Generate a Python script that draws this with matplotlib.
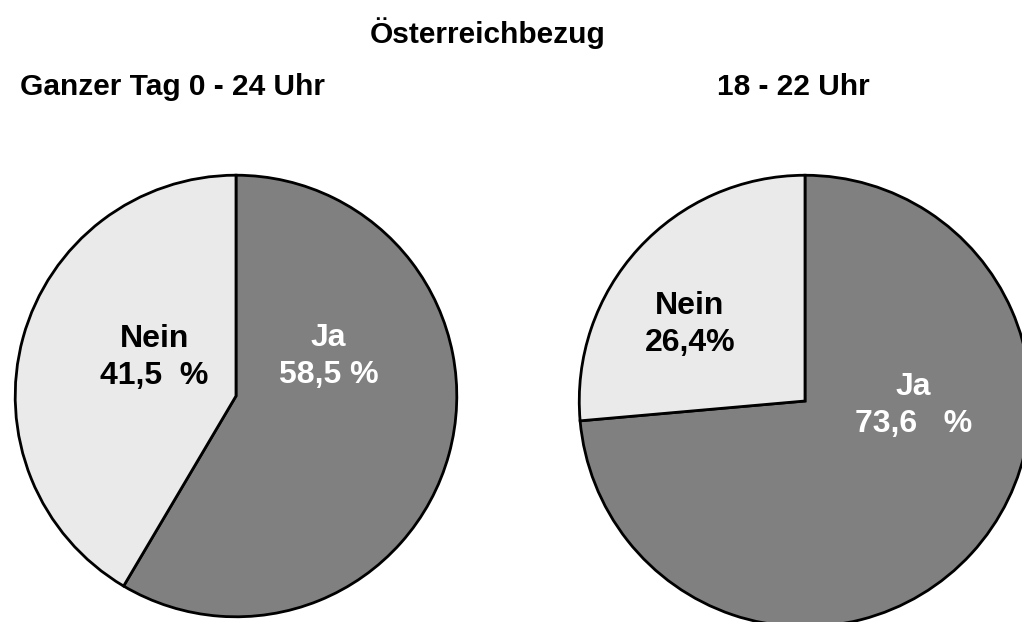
import matplotlib.pyplot as plt

plt.rcParams['font.family'] = ['Liberation Sans', 'DejaVu Sans']

title = "Österreichbezug"
subtitles = ["Ganzer Tag 0 - 24 Uhr", "18 - 22 Uhr"]
categories = ["Ja", "Nein"]
values_day = [58.5, 41.5]
values_evening = [73.6, 26.4]
labels_day = ["Ja\n58,5 %", "Nein\n41,5  %"]
labels_evening = ["Ja\n73,6   %", "Nein\n26,4%"]
colors = ["#808080", "#eaeaea"]
text_colors = ["white", "black"]

W, H = 1022, 622
fig = plt.figure(figsize=(W / 100, H / 100), dpi=100)


def px_axes(cx, cy, r):
    # axes placed by pixel centre/radius (top-based y)
    return fig.add_axes([(cx - r) / W, (H - cy - r) / H, 2 * r / W, 2 * r / H])


ax1 = px_axes(236, 396, 223)
ax2 = px_axes(805, 401, 228)

for ax, vals in [(ax1, values_day), (ax2, values_evening)]:
    ax.pie(vals, colors=colors, startangle=90, counterclock=False,
           wedgeprops=dict(edgecolor="black", linewidth=2), radius=1)
    ax.set_xlim(-1.01, 1.01)
    ax.set_ylim(-1.01, 1.01)
    ax.set_aspect("equal")
    ax.axis("off")

# label positions inside the slices
pos_day = [(0.42, 0.18), (-0.37, 0.175)]
pos_evening = [(0.48, -0.02), (-0.51, 0.34)]
for ax, labs, pos in [(ax1, labels_day, pos_day), (ax2, labels_evening, pos_evening)]:
    for lab, (x, y), c in zip(labs, pos, text_colors):
        ax.text(x, y, lab, ha="center", va="center", fontsize=23,
                fontweight="bold", color=c, linespacing=1.3)

fig.text(488 / W, 1 - 33 / H, title, ha="center", va="center",
         fontsize=21.5, fontweight="bold")
fig.text(20 / W, 1 - 87 / H, subtitles[0], ha="left", va="center",
         fontsize=21.5, fontweight="bold")
fig.text(793 / W, 1 - 87 / H, subtitles[1], ha="center", va="center",
         fontsize=21.5, fontweight="bold")

fig.savefig("out.png", dpi=100)
